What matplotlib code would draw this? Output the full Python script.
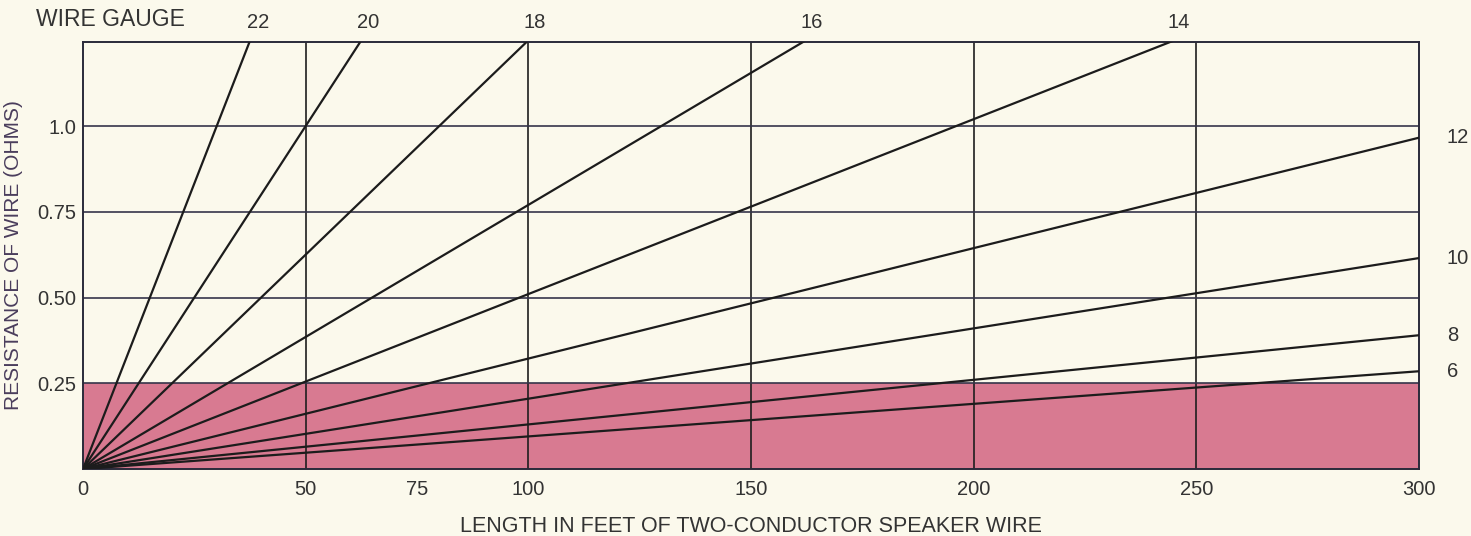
import matplotlib
matplotlib.use("Agg")
import matplotlib.pyplot as plt
import numpy as np

# ---- data ----
gauges = [22, 20, 18, 16, 14, 12, 10, 8, 6]
ohms_per_100ft = [3.33, 2.00, 1.25, 0.77, 0.51, 0.322, 0.205, 0.13, 0.095]
top_labeled = [22, 20, 18, 16, 14]
right_labeled = [12, 10, 8, 6]
x_ticks = [0, 50, 75, 100, 150, 200, 250, 300]
x_grid = [50, 100, 150, 200, 250]
y_ticks = [0.25, 0.50, 0.75, 1.0]
y_tick_labels = ["0.25", "0.50", "0.75", "1.0"]
safe_limit = 0.25
max_len = 300
y_top = 1.245

bg = "#fbf9ec"
pink = "#d87a91"
text_c = "#333333"

plt.rcParams['font.family'] = ['Liberation Sans', 'DejaVu Sans']

fig = plt.figure(figsize=(14.71, 5.36), dpi=100, facecolor=bg)
ax = fig.add_axes([83/1471, 1 - 469/536, (1419 - 83)/1471, (469 - 42)/536])
ax.set_facecolor(bg)
ax.set_xlim(0, max_len)
ax.set_ylim(0, y_top)

# pink zone
ax.fill_between([0, max_len], 0, safe_limit, color=pink, zorder=1, linewidth=0)

# grid
for gx in x_grid:
    ax.axvline(gx, color="#1e1e1e", lw=1.2, zorder=2)
for gy in y_ticks:
    ax.axhline(gy, color="#35354a", lw=1.2, zorder=2)

# wire lines
xs = np.array([0, max_len])
for g, r in zip(gauges, ohms_per_100ft):
    ax.plot(xs, xs * r / 100.0, color="#1c1c1c", lw=1.6, zorder=3,
            solid_capstyle="butt")

for s in ax.spines.values():
    s.set_color("#2a2a3a")
    s.set_linewidth(1.4)

ax.set_xticks(x_ticks)
ax.set_xticklabels([str(v) for v in x_ticks])
ax.set_yticks(y_ticks)
ax.set_yticklabels(y_tick_labels)
ax.tick_params(axis='both', length=0, labelsize=14.5, colors=text_c)
ax.tick_params(axis='x', pad=8)
ax.tick_params(axis='y', pad=5)

# gauge labels
for g, r in zip(gauges, ohms_per_100ft):
    if g in top_labeled:
        xt = y_top / (r / 100.0)
        ax.annotate(str(g), xy=(xt, y_top), xytext=(6, 14),
                    textcoords="offset points", ha="center", va="center",
                    fontsize=14.5, color=text_c, annotation_clip=False)
    if g in right_labeled:
        yv = max_len * r / 100.0
        ax.annotate(str(g), xy=(max_len, yv), xytext=(20, 0),
                    textcoords="offset points", ha="left", va="center",
                    fontsize=14.5, color=text_c, annotation_clip=False)

fig.text(110/1471, 1 - 20/536, "WIRE GAUGE", ha="center", va="center",
         fontsize=16.5, color=text_c)

ax.set_xlabel("LENGTH IN FEET OF TWO-CONDUCTOR SPEAKER WIRE",
              fontsize=15.5, color=text_c, labelpad=12)
ax.set_ylabel("RESISTANCE OF WIRE (OHMS)", fontsize=15, color="#4a3d5c",
              labelpad=10)

fig.savefig("out.png", dpi=100, facecolor=bg)
